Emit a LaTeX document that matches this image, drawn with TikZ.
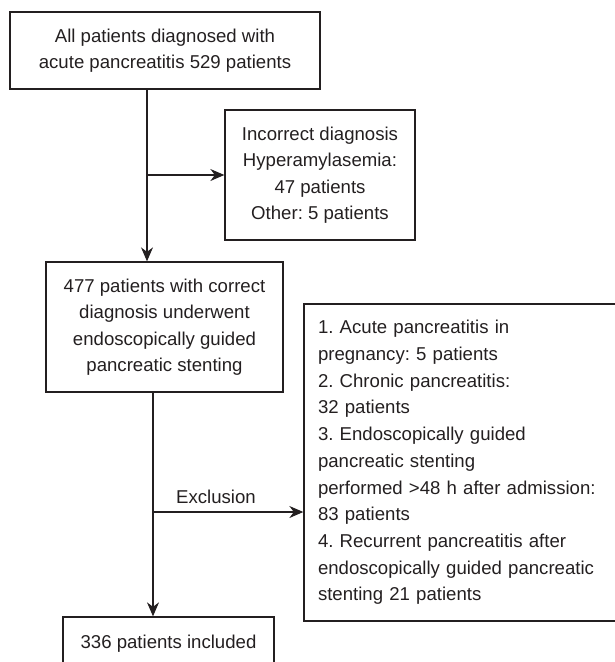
\documentclass[tikz,border=0pt]{standalone}
\usepackage{fontspec}
\setmainfont{Liberation Sans}
\usetikzlibrary{arrows.meta}
\definecolor{ink}{HTML}{231F20}
\frenchspacing
\begin{document}
\begin{tikzpicture}[x=1pt,y=-1pt,
  txt/.style={text=ink, font=\frenchspacing\fontsize{18.6}{26.5}\selectfont},
  box/.style={txt, draw=ink, line width=1.3pt, align=center, inner sep=0pt},
  conn/.style={draw=ink, line width=1.3pt},
  arr/.style={conn, -{Stealth[length=14pt,width=12pt,inset=4.5pt]}}]
\useasboundingbox (0,0) rectangle (615,662);
\clip (0,0) rectangle (615,662);
\node[box, minimum width=310pt, minimum height=77pt] (b1) at (165,50.5)
  {All patients diagnosed with\\acute pancreatitis 529 patients};
\node[box, minimum width=190pt, minimum height=130pt] (b2) at (320,175)
  {Incorrect diagnosis\\Hyperamylasemia:\\47 patients\\Other: 5 patients};
\node[box, minimum width=237pt, minimum height=130pt] (b3) at (164.5,327)
  {477 patients with correct\\diagnosis underwent\\endoscopically guided\\pancreatic stenting};
\node[box, minimum width=211pt, minimum height=53pt] (b4) at (168.5,643.5)
  {336 patients included};
\node[box, font=\frenchspacing\fontsize{18.6}{26.7}\selectfont, align=left, text width=293pt, inner xsep=14pt,
  minimum width=321pt, minimum height=317pt] (b5) at (464.5,462.5)
  {1. Acute pancreatitis in\\pregnancy: 5 patients\\2. Chronic pancreatitis:\\32 patients\\3. Endoscopically guided\\pancreatic stenting\\performed >48 h after admission:\\83 patients\\4. Recurrent pancreatitis after\\endoscopically guided pancreatic\\stenting 21 patients};
\coordinate (j1) at (147,175);
\coordinate (j2) at (153,512);
\draw[arr] (b1.south -| j1) -- (b3.north -| j1);
\draw[arr] (j1) -- (b2.west |- j1);
\draw[arr] (b3.south -| j2) -- (b4.north -| j2);
\draw[arr] (j2) -- (b5.west |- j2);
\node[txt, inner sep=0pt] (lab) at (216,497) {Exclusion};
\end{tikzpicture}
\end{document}
